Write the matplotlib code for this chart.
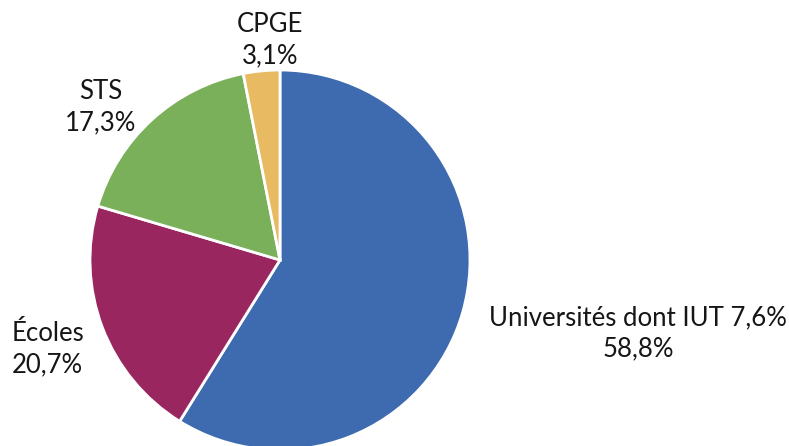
import matplotlib.pyplot as plt

# Répartition des effectifs par filière
labels = ['Universités dont IUT 7,6%', 'Écoles', 'STS', 'CPGE']
values = [58.8, 20.7, 17.3, 3.1]
colors = ['#3E6BB0', '#9A2660', '#7AB05A', '#E8BA62']

plt.rcParams['font.family'] = ['Lato', 'DejaVu Sans']

fig = plt.figure(figsize=(7.89, 4.46), dpi=100)
ax = fig.add_axes([0, 0, 1, 1])

ax.pie(values, colors=colors, startangle=90, counterclock=False,
       center=(280, 186), radius=190, frame=True,
       wedgeprops=dict(edgecolor='white', linewidth=2))
ax.set_xlim(0, 789)
ax.set_ylim(0, 446)
ax.axis('off')

# label positions (pixels from top-left)
pos = {'Universités dont IUT 7,6%': (638, 333, 'center'),
       'Écoles': (12, 349, 'left'),
       'STS': (101, 107, 'center'),
       'CPGE': (270, 40, 'center')}

for lab, v in zip(labels, values):
    x, y, ha = pos[lab]
    txt = lab + '\n' + f'{v:.1f}%'.replace('.', ',')
    ax.text(x, 446 - y, txt, ha=ha, va='center', fontsize=18.5,
            linespacing=1.3, color='#161616',
            multialignment='center' if ha == 'center' else 'left')

fig.savefig('out.png', dpi=100)
